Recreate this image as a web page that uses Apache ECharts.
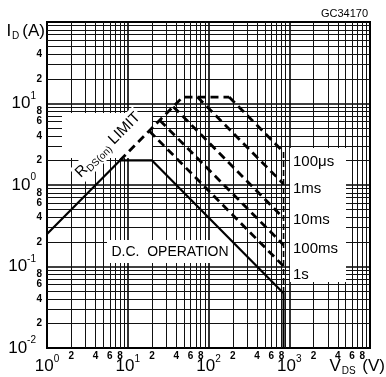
<!DOCTYPE html>
<html><head><meta charset="utf-8">
<script src="https://cdn.jsdelivr.net/npm/echarts@6/dist/echarts.min.js"></script>
<style>html,body{margin:0;padding:0;background:#fff}#c{width:386px;height:377px}</style>
</head><body><div id="c"></div>
<script>
// ---- data ----
const xMin = 1, xMax = 10000;
const yMin = 0.01, yMax = 100;
const minorDigits = [2, 3, 4, 5, 6, 7, 8, 9];
const labeledDigits = [2, 4, 6, 8];
const xDecadeStarts = [1, 10, 100, 1000];
const yDecadeStarts = [0.01, 0.1, 1, 10];
const yTopDecadeLabeled = [2, 4];

const dcLine = [[1, 0.25], [8, 2], [20, 2], [850, 0.047], [850, 0.01]];
const rdsLimitDashed = [[8, 2], [48, 12], [180, 12]];
const pulse100us = [[180, 12], [850, 2.54]];
const pulse1ms = [[73, 12], [850, 1.03]];
const pulse10ms = [[36.6, 9.15], [850, 0.394]];
const pulse100ms = [[25, 6.2], [850, 0.184]];
const pulse1s = [[18.5, 4.6], [850, 0.101]];
const vLimitDashed = [[850, 2.54], [850, 0.047]];
const pulseLabels = ['100\u03bcs', '1ms', '10ms', '100ms', '1s'];

// ---- chart ----
const FF = '"Liberation Sans", Arial, sans-serif';
const chart = echarts.init(document.getElementById('c'), null, {renderer: 'canvas'});

const xMinorLines = [];
xDecadeStarts.forEach(b => minorDigits.forEach(d => {
  const item = {xAxis: b * d};
  if (labeledDigits.includes(d)) {
    item.label = {show: true, position: 'start', formatter: String(d), fontSize: 10, fontWeight: 'bold', color: '#000', fontFamily: FF, distance: 3};
  }
  xMinorLines.push(item);
}));
const yMinorLines = [];
yDecadeStarts.forEach((b, i) => minorDigits.forEach(d => {
  const item = {yAxis: b * d};
  const lab = i === yDecadeStarts.length - 1 ? yTopDecadeLabeled : labeledDigits;
  if (lab.includes(d)) {
    item.label = {show: true, position: 'start', formatter: String(d), fontSize: 10, fontWeight: 'bold', color: '#000', fontFamily: FF, distance: 5};
  }
  yMinorLines.push(item);
}));

function dashed(data) {
  return {type: 'line', data: data, showSymbol: false, symbol: 'none', z: 5, silent: true,
    lineStyle: {color: '#000', width: 2.8, type: [8, 5]}, animation: false};
}

const richLab = {
  b: {fontSize: 17, lineHeight: 25, fontFamily: FF, color: '#000'},
  s: {fontSize: 10, lineHeight: 10, verticalAlign: 'top', fontFamily: FF, color: '#000'}
};

const option = {
  animation: false,
  backgroundColor: '#fff',
  grid: {left: 47, top: 22, right: 16, bottom: 29, show: true, borderColor: '#000', borderWidth: 2, backgroundColor: 'transparent'},
  xAxis: {
    type: 'log', logBase: 10, min: xMin, max: xMax,
    axisLine: {show: true, lineStyle: {color: '#000', width: 2}},
    axisTick: {show: false},
    splitLine: {show: true, lineStyle: {color: '#000', width: 1.6}},
    axisLabel: {
      margin: 6, color: '#000', rich: richLab,
      formatter: v => { const n = Math.round(Math.log10(v)); return n > 3 ? '' : '{b|10}{s|' + n + '}'; }
    }
  },
  yAxis: {
    type: 'log', logBase: 10, min: yMin, max: yMax,
    axisLine: {show: true, lineStyle: {color: '#000', width: 2}},
    axisTick: {show: false},
    splitLine: {show: true, lineStyle: {color: '#000', width: 1.6}},
    axisLabel: {
      margin: 11, color: '#000', rich: richLab,
      formatter: v => { const n = Math.round(Math.log10(v)); return n > 1 ? '' : '{b|10}{s|' + n + '}'; }
    }
  },
  series: [
    {type: 'line', data: [[1, 0.01]], showSymbol: false, symbol: 'none', z: 1, silent: true, lineStyle: {width: 0},
      markLine: {z: 1, silent: true, symbol: 'none', animation: false, precision: 6,
        lineStyle: {color: '#111', width: 1, type: 'solid'}, label: {show: false},
        emphasis: {disabled: true},
        data: xMinorLines.concat(yMinorLines)}},
    {type: 'line', data: dcLine, showSymbol: false, symbol: 'none', z: 5, silent: true,
      lineStyle: {color: '#000', width: 2.2, type: 'solid'}},
    dashed(rdsLimitDashed),
    dashed(pulse100us),
    dashed(pulse1ms),
    dashed(pulse10ms),
    dashed(pulse100ms),
    dashed(pulse1s),
    {type: 'line', data: vLimitDashed, showSymbol: false, symbol: 'none', z: 5, silent: true,
      lineStyle: {color: '#000', width: 1.6, type: [6, 3]}}
  ],
  graphic: {elements: [
    {type: 'rect', z: 3, shape: {x: 62, y: 113, width: 90, height: 45}, style: {fill: '#fff'}},
    {type: 'rect', z: 3, shape: {x: 107, y: 240, width: 125, height: 23}, style: {fill: '#fff'}},
    {type: 'rect', z: 3, shape: {x: 290, y: 148, width: 56, height: 134}, style: {fill: '#fff'}},
    {type: 'text', z: 6, x: 108, y: 145, rotation: Math.PI / 4,
      style: {text: '{r|R}{sub|DS(on)}{r| LIMIT}', align: 'center', verticalAlign: 'middle', backgroundColor: '#fff', padding: [1, 2],
        rich: {r: {fontSize: 15, fontFamily: FF, fill: '#000', lineHeight: 18},
               sub: {fontSize: 10, fontFamily: FF, fill: '#000', lineHeight: 18, verticalAlign: 'bottom'}}}},
    {type: 'text', z: 6, x: 170, y: 252, style: {text: 'D.C.  OPERATION', fontSize: 14, fontFamily: FF, fill: '#000', align: 'center', verticalAlign: 'middle'}},
    {type: 'text', z: 6, x: 293, y: 162, style: {text: pulseLabels[0], fontSize: 15, fontFamily: FF, fill: '#000', verticalAlign: 'middle'}},
    {type: 'text', z: 6, x: 293, y: 189, style: {text: pulseLabels[1], fontSize: 15, fontFamily: FF, fill: '#000', verticalAlign: 'middle'}},
    {type: 'text', z: 6, x: 293, y: 220, style: {text: pulseLabels[2], fontSize: 15, fontFamily: FF, fill: '#000', verticalAlign: 'middle'}},
    {type: 'text', z: 6, x: 293, y: 249, style: {text: pulseLabels[3], fontSize: 15, fontFamily: FF, fill: '#000', verticalAlign: 'middle'}},
    {type: 'text', z: 6, x: 293, y: 275, style: {text: pulseLabels[4], fontSize: 15, fontFamily: FF, fill: '#000', verticalAlign: 'middle'}},
    {type: 'text', z: 6, x: 368, y: 14, style: {text: 'GC34170', fontSize: 11, fontFamily: FF, fill: '#000', align: 'right', verticalAlign: 'middle'}},
    {type: 'text', z: 6, x: 45, y: 31, style: {text: '{b|I}{sub|D}{b|(A)}', align: 'right', verticalAlign: 'middle',
      rich: {b: {fontSize: 17, fontFamily: FF, fill: '#000', lineHeight: 20}, sub: {fontSize: 10, fontFamily: FF, fill: '#000', lineHeight: 20, verticalAlign: 'bottom', padding: [0, 3, 0, 1]}}}},
    {type: 'text', z: 6, x: 385, y: 366, style: {text: '{b|V}{sub|DS}{b| (V)}', align: 'right', verticalAlign: 'middle',
      rich: {b: {fontSize: 17, fontFamily: FF, fill: '#000', lineHeight: 20}, sub: {fontSize: 10, fontFamily: FF, fill: '#000', lineHeight: 20, verticalAlign: 'bottom', padding: [0, 2, 0, 1]}}}}
  ]}
};
chart.setOption(option);
</script>
</body></html>
